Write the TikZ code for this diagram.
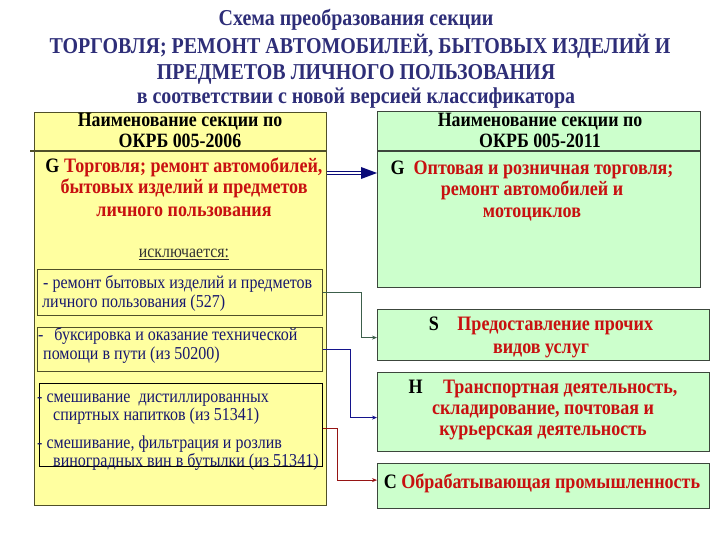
\documentclass[tikz,border=0pt]{standalone}
\usepackage{fontspec}
\setmainfont[FakeStretch=0.88]{Liberation Serif}
\usetikzlibrary{arrows.meta}
\definecolor{titleblue}{RGB}{46,46,120}
\definecolor{redtxt}{RGB}{200,16,16}
\definecolor{navytxt}{RGB}{24,24,110}
\definecolor{yfill}{RGB}{255,255,160}
\definecolor{gfill}{RGB}{204,255,204}
\definecolor{yborder}{RGB}{80,80,40}
\definecolor{gborder}{RGB}{60,70,60}
\definecolor{conA}{RGB}{60,95,75}
\definecolor{conB}{RGB}{20,20,140}
\definecolor{conC}{RGB}{150,20,20}
\definecolor{arrnavy}{RGB}{10,10,120}
\begin{document}
\begin{tikzpicture}[x=1pt,y=-1pt,
  ybox/.style={draw=yborder, fill=yfill, line width=1.2pt, anchor=north west, inner sep=0pt},
  gbox/.style={draw=gborder, fill=gfill, line width=1.2pt, anchor=north west, inner sep=0pt},
  sbox/.style={draw=yborder, fill=yfill, line width=1pt, anchor=north west, inner sep=0pt},
  tbox/.style={draw=black, fill=yfill, line width=0.6pt, anchor=north west, inner sep=0pt},
  ttl/.style={inner sep=0pt, anchor=base, text=titleblue, font=\fontsize{22.7}{26}\selectfont\bfseries},
  hdr/.style={inner sep=0pt, anchor=base, text=black, font=\fontsize{20.3}{23}\selectfont\bfseries},
  red/.style={inner sep=0pt, anchor=base, text=redtxt, font=\fontsize{20.5}{23}\selectfont\bfseries},
  sub/.style={inner sep=0pt, anchor=base west, text=navytxt, font=\fontsize{18.2}{21}\selectfont},
  con/.style={line width=0.8pt, -{Stealth[length=5pt,width=4pt]}},
  dbl/.style={draw=arrnavy, line width=1.3pt, double=white, double distance=2pt}
]
\useasboundingbox (0,0) rectangle (720,540);
\newcommand{\lt}[1]{\textcolor{black}{#1}}

% title
\node[ttl] (t1) at (356,26) {Схема преобразования секции};
\node[ttl] (t2) at (360,54) {ТОРГОВЛЯ; РЕМОНТ АВТОМОБИЛЕЙ, БЫТОВЫХ ИЗДЕЛИЙ И};
\node[ttl] (t3) at (356,80) {ПРЕДМЕТОВ ЛИЧНОГО ПОЛЬЗОВАНИЯ};
\node[ttl] (t4) at (356,104) {в соответствии с новой версией классификатора};

% left big box
\node[ybox, minimum width=292pt, minimum height=393pt] (L) at (34,112) {};
\draw[draw=yborder, line width=1.2pt] (30,151) -- (L.east |- 0,151);
\node[hdr] (lh1) at (180,127) {Наименование секции по};
\node[hdr] (lh2) at (180,148) {ОКРБ 005-2006};
\node[red] (lr1) at (184,173) {\lt{G} Торговля; ремонт автомобилей,};
\node[red] (lr2) at (184,194) {бытовых изделий и предметов};
\node[red] (lr3) at (184,216) {личного пользования};
\node[inner sep=0pt, anchor=base, text=black!80, font=\fontsize{18}{20}\selectfont] (exc) at (184,258) {\underline{исключается:}};

% sub boxes
\node[sbox, minimum width=285pt, minimum height=46pt] (b1) at (37,269) {};
\node[sub] (b1a) at (43,288) {- ремонт бытовых изделий и предметов};
\node[sub] (b1b) at (42,307) {личного пользования (527)};
\node[sbox, minimum width=285pt, minimum height=44pt] (b2) at (37,327) {};
\node[sub] (b2a) at (38,340) {-\hspace{0.6em}буксировка и оказание технической};
\node[sub] (b2b) at (43,359) {помощи в пути (из 50200)};
\node[tbox, minimum width=283pt, minimum height=83pt] (b3) at (39,383) {};
\node[sub] (b3a) at (37,402) {- смешивание\ \ дистиллированных};
\node[sub] (b3b) at (53,420) {спиртных напитков (из 51341)};
\node[sub] (b3c) at (37,448) {- смешивание, фильтрация и розлив};
\node[sub] (b3d) at (53,466) {виноградных вин в бутылки (из 51341)};

% right top box
\node[gbox, minimum width=323pt, minimum height=176pt] (R) at (377,111) {};
\draw[draw=gborder, line width=1.2pt] (R.west |- 0,151) -- (R.east |- 0,151);
\node[hdr] (rh1) at (540,127) {Наименование секции по};
\node[hdr] (rh2) at (540,148) {ОКРБ 005-2011};
\node[red] (rr1) at (532,175) {\lt{G}\ \ Оптовая и розничная торговля;};
\node[red] (rr2) at (532,196) {ремонт автомобилей и};
\node[red] (rr3) at (532,218) {мотоциклов};

% right lower boxes
\node[gbox, minimum width=332pt, minimum height=51pt] (S) at (377,309) {};
\node[red] (s1) at (541,330) {\lt{S}\hspace{0.9em}Предоставление прочих};
\node[red] (s2) at (541,353) {видов услуг};
\node[gbox, minimum width=332pt, minimum height=79pt] (H) at (377,372) {};
\node[red] (h1) at (543,393) {\lt{H}\hspace{1em}Транспортная деятельность,};
\node[red] (h2) at (543,414) {складирование, почтовая и};
\node[red] (h3) at (543,435) {курьерская деятельность};
\node[gbox, minimum width=332pt, minimum height=45pt] (C) at (377,463) {};
\node[red] (c1) at (542,488) {\lt{C} Обрабатывающая промышленность};

% double arrow
\path (R.west |- 0,173) coordinate (dt);
\draw[dbl] (L.east |- dt) -- ([xshift=-14pt]dt);
\fill[arrnavy] (dt) -- ++(-16,-6) -- ++(0,12) -- cycle;

% connectors
\draw[con, draw=conA] (b1.east) -- ++(38,0) |- ([yshift=-2.5pt]S.west);
\draw[con, draw=conB] (b2.east) -- ++(27,0) |- ([yshift=-5.5pt]H.west);
\draw[con, draw=conC] ([yshift=-3.5pt]b3.east) -- ++(15,0) |- ([yshift=6pt]C.west);
\end{tikzpicture}
\end{document}
